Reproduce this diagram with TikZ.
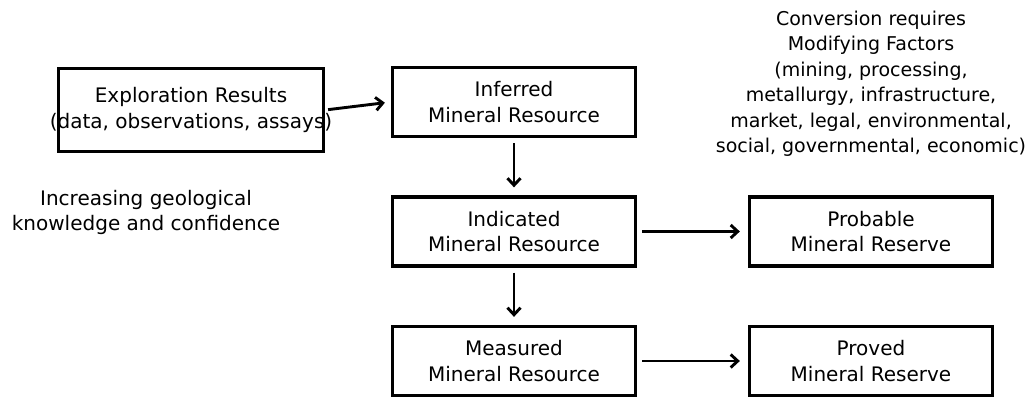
\documentclass[tikz,border=0pt]{standalone}
\usepackage{fontspec}
\setmainfont{DejaVu Sans}
\usetikzlibrary{arrows.meta}

\begin{document}
\begin{tikzpicture}[x=1pt, y=-1pt, node distance=129.5pt]
    \tikzstyle{resource} = [draw, rectangle, line width=3.3pt, minimum width=243pt, minimum height=69pt, align=center, font=\fontsize{20}{25.5}\selectfont]
    \tikzstyle{results} = [draw, rectangle, line width=3.3pt, minimum width=265pt, minimum height=83pt, inner xsep=-10pt, align=center, font=\fontsize{20}{25.5}\selectfont]
    \tikzstyle{note} = [align=center, font=\fontsize{20}{25.5}\selectfont]
    \tikzstyle{flow} = [line width=2.9pt, -{Straight Barb[length=7pt, width=13pt]}, shorten <=5pt, shorten >=8pt]

    \useasboundingbox (0,0) rectangle (1029,399);

    \node[resource] (inferred) at (514,102) {Inferred\\Mineral Resource};
    \node[resource, below of=inferred] (indicated) {Indicated\\Mineral Resource};
    \node[resource, below of=indicated] (measured) {Measured\\Mineral Resource};
    \node[resource, right of=indicated, node distance=357pt] (probable) {Probable\\Mineral Reserve};
    \node[resource, right of=measured, node distance=357pt] (proved) {Proved\\Mineral Reserve};
    \node[results] (exploration) at (191,110) {Exploration Results\\(data, observations, assays)};

    \node[note] (confidence) at (146,212.5) {Increasing geological\\knowledge and confidence};
    \node[note, font=\fontsize{19}{25.5}\selectfont] (factors) at (871,84) {Conversion requires\\Modifying Factors\\(mining, processing,\\metallurgy, infrastructure,\\market, legal, environmental,\\social, governmental, economic)};

    \draw[flow, shorten <=3pt, shorten >=6pt] (exploration.east) -- (inferred.west);
    \draw[flow] (inferred) -- (indicated);
    \draw[flow] (indicated) -- (measured);
    \draw[flow] (indicated) -- (probable);
    \draw[flow] (measured) -- (proved);
\end{tikzpicture}
\end{document}
